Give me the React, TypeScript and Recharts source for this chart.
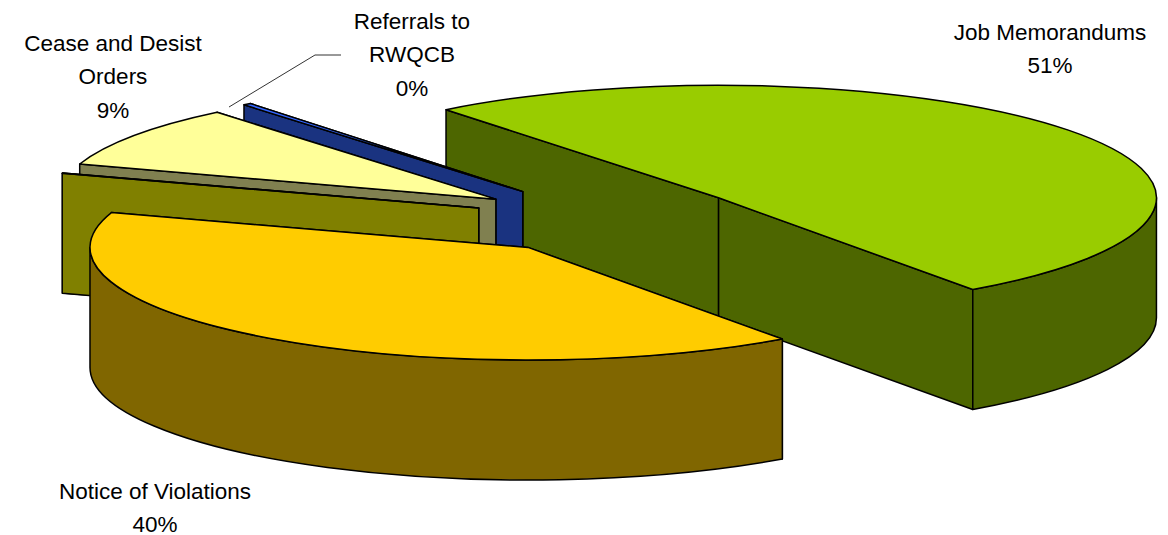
import { PieChart, Pie, Cell } from 'recharts';

// Order is back-to-front, the pie runs counter-clockwise so later slices paint over earlier ones
const categories = ['Job Memorandums', 'Referrals to\nRWQCB', 'Cease and Desist\nOrders', '', 'Notice of Violations'];
const values = [51, 0.3, 9, 0.05, 40];

const topColors = ['#99CC00', '#3366FF', '#FFFF99', '#FFFF00', '#FFCC00'];
const wallColors = ['#4D6600', '#1A3380', '#808050', '#808000', '#806600'];
const labelAnchors = [
  { x: 1050, y: 32 },
  { x: 412, y: 21 },
  { x: 113, y: 43 },
  null,
  { x: 155, y: 491 },
];

const TILT = 0.257;
const DEPTH = 120;
const EXPLODE = 137;
const RAD = Math.PI / 180;
const LINE_HEIGHT = 33.5;

function Slice3D(props: any) {
  const { cx, cy, outerRadius: r, startAngle, endAngle, midAngle, fill, index } = props;
  const ox = cx + EXPLODE * Math.cos(midAngle * RAD);
  const oy = cy - EXPLODE * Math.sin(midAngle * RAD) * TILT;
  const px = (a: number) => ox + r * Math.cos(a * RAD);
  const py = (a: number, d = 0) => oy - r * Math.sin(a * RAD) * TILT + d;
  const ry = r * TILT;
  const wall = wallColors[index];
  const line = { stroke: '#000', strokeWidth: 1.5, strokeLinejoin: 'round' as const };

  const radialFace = (a: number) =>
    `M${ox},${oy} L${px(a)},${py(a)} L${px(a)},${py(a, DEPTH)} L${ox},${oy + DEPTH} Z`;

  // the rim only shows on the front half of the ellipse
  const rims: string[] = [];
  for (const k of [-360, 0, 360]) {
    const a0 = Math.max(startAngle, 180 + k);
    const a1 = Math.min(endAngle, 360 + k);
    if (a1 > a0) {
      rims.push(
        `M${px(a0)},${py(a0)} A${r},${ry} 0 0 0 ${px(a1)},${py(a1)} ` +
          `L${px(a1)},${py(a1, DEPTH)} A${r},${ry} 0 0 1 ${px(a0)},${py(a0, DEPTH)} Z`,
      );
    }
  }
  const large = endAngle - startAngle > 180 ? 1 : 0;
  const top = `M${ox},${oy} L${px(startAngle)},${py(startAngle)} A${r},${ry} 0 ${large} 0 ${px(endAngle)},${py(endAngle)} Z`;

  return (
    <g>
      <path d={radialFace(startAngle)} fill={wall} {...line} />
      <path d={radialFace(endAngle)} fill={wall} {...line} />
      {rims.map((d) => (
        <path key={d} d={d} fill={wall} {...line} />
      ))}
      <path d={top} fill={fill} {...line} />
    </g>
  );
}

function SliceLabel({ index, percent }: any) {
  const anchor = labelAnchors[index];
  if (!anchor) return null;
  const lines = [...categories[index].split('\n'), `${Math.round(percent * 100)}%`];
  return (
    <g>
      {index === 1 && <polyline points="229,107 315,55 341,55" fill="none" stroke="#333" strokeWidth={1} />}
      <text
        x={anchor.x}
        y={anchor.y}
        textAnchor="middle"
        fontFamily="Liberation Sans, Arial, sans-serif"
        fontSize={22.5}
        fill="#000"
      >
        {lines.map((t, i) => (
          <tspan key={t} x={anchor.x} y={anchor.y + i * LINE_HEIGHT} dominantBaseline="central">
            {t}
          </tspan>
        ))}
      </text>
    </g>
  );
}

export default function App() {
  const data = categories.map((name, i) => ({ name, value: values[i] }));
  return (
    <div style={{ position: 'absolute', left: 0, top: 0, width: 1168, height: 535, background: '#fff' }}>
      <PieChart width={1168} height={535} margin={{ top: 0, right: 0, bottom: 0, left: 0 }}>
        <Pie
          data={data}
          dataKey="value"
          cx={609}
          cy={219}
          innerRadius={0}
          outerRadius={438}
          startAngle={-54.5}
          endAngle={305.5}
          paddingAngle={0}
          shape={Slice3D}
          label={SliceLabel}
          labelLine={false}
          isAnimationActive={false}
        >
          {data.map((entry, index) => (
            <Cell key={`cell-${index}`} fill={topColors[index]} />
          ))}
        </Pie>
      </PieChart>
    </div>
  );
}
